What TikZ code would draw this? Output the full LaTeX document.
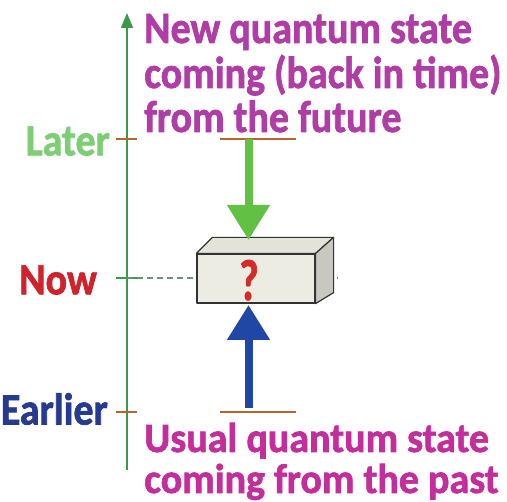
\documentclass[tikz,border=0pt]{standalone}
\usepackage{fontspec}
\setmainfont{Carlito}
\newfontfamily\heavyfont{Carlito}[UprightFont=* Bold, FakeBold=1.6]
\usetikzlibrary{arrows.meta}
\definecolor{axisgreen}{HTML}{3A9A4A}
\definecolor{tickbrown}{HTML}{B5652D}
\definecolor{latercol}{HTML}{7DCE76}
\definecolor{nowcol}{HTML}{D0222B}
\definecolor{earliercol}{HTML}{263A8F}
\definecolor{topmag}{HTML}{B03CA5}
\definecolor{botmag}{HTML}{C42E9C}
\definecolor{garrowcol}{HTML}{62C045}
\definecolor{barrowcol}{HTML}{2147A6}
\definecolor{dashcol}{HTML}{6E8F78}
\definecolor{qcol}{HTML}{D52B2B}
\definecolor{frontcol}{HTML}{EDECE2}
\definecolor{topcol}{HTML}{E4E3D8}
\definecolor{sidecol}{HTML}{C8C8C0}
\newcommand{\tall}[1]{\scalebox{1}[1.12]{#1}}
\newcommand{\taller}[1]{\scalebox{1}[1.04]{#1}}
\tikzset{
  axisline/.style={draw=axisgreen, line width=1.6pt},
  tickline/.style={draw=tickbrown, line width=1.4pt},
  stateline/.style={draw=tickbrown, line width=1.6pt},
  lbl/.style={font=\heavyfont\fontsize{40}{44}\selectfont, inner sep=0pt, anchor=east},
  bigtxt/.style={font=\heavyfont\fontsize{40}{44}\selectfont, inner sep=0pt, anchor=base west},
  fatarrow/.style={line width=8pt, -{Triangle[length=35pt,width=41pt]}},
  nowdash/.style={draw=dashcol, line width=1.3pt, dash pattern=on 6pt off 4pt},
  face/.style={draw=black!80, line width=1.2pt, line join=round},
}
\begin{document}
\begin{tikzpicture}[x=1pt,y=-1pt]
\useasboundingbox (0,0) rectangle (507,502);
% time axis
\coordinate (axb) at (127,470);
\coordinate (axt) at (127,13);
\coordinate (tl) at (127,139);
\coordinate (tn) at (127,278);
\coordinate (te) at (127,412);
\draw[axisline, -{Triangle[length=15pt,width=12pt]}] (axb) -- (axt);
\draw[tickline] ([xshift=-11pt]tl) -- ([xshift=10pt]tl);
\draw[tickline] ([xshift=-11pt]te) -- ([xshift=10pt]te);
\draw[axisline, line width=1.2pt] ([xshift=-11pt]tn) -- ([xshift=10pt]tn);
% labels
\node[lbl, text=latercol] (later) at (110,141) {\tall{Later}};
\node[lbl, text=nowcol] (now) at (97,280) {\tall{Now}};
\node[lbl, text=earliercol] (earlier) at (108,409) {\tall{Earlier}};
% dashed now line
\coordinate (dashend) at (338,278);
\draw[nowdash] (tn) -- (dashend);
% box
\node[face, fill=frontcol, minimum width=118pt, minimum height=49pt, inner sep=0pt] (box) at (256,278.5) {};
\draw[face, fill=topcol] (box.north west) -- ([shift={(16,-16)}]box.north west) -- ([shift={(18,-16)}]box.north east) -- (box.north east) -- cycle;
\draw[face, fill=sidecol] (box.north east) -- ([shift={(18,-16)}]box.north east) -- ([shift={(18,-11)}]box.south east) -- (box.south east) -- cycle;
\node[text=qcol, font=\heavyfont\fontsize{58}{60}\selectfont, inner sep=0pt, anchor=base] (q) at (249,300) {\scalebox{0.72}[1]{?}};
% future state and arrow
\coordinate (f1) at (220,139);
\coordinate (f2) at (296,139);
\coordinate (fs) at (248.5,139);
\coordinate (ft) at (248.5,240);
\draw[stateline] (f1) -- (f2);
\draw[fatarrow, draw=garrowcol, fill=garrowcol] (fs) -- (ft);
% past state and arrow
\coordinate (p1) at (220,412);
\coordinate (p2) at (296,412);
\coordinate (ps) at (248.5,408);
\coordinate (pt) at (248.5,305);
\draw[fatarrow, draw=barrowcol, fill=barrowcol] (ps) -- (pt);
\draw[stateline] (p1) -- (p2);
% texts
\node[bigtxt, text=topmag] (t1) at (144,43) {\tall{New quantum state}};
\node[bigtxt, text=topmag] (t2) at (144,88) {\tall{coming (back in time)}};
\node[bigtxt, text=topmag] (t3) at (144,132) {\tall{from the future}};
\node[bigtxt, text=botmag] (b1) at (144,452) {\taller{Usual quantum state}};
\node[bigtxt, text=botmag] (b2) at (144,493) {\taller{coming from the past}};
\end{tikzpicture}
\end{document}
